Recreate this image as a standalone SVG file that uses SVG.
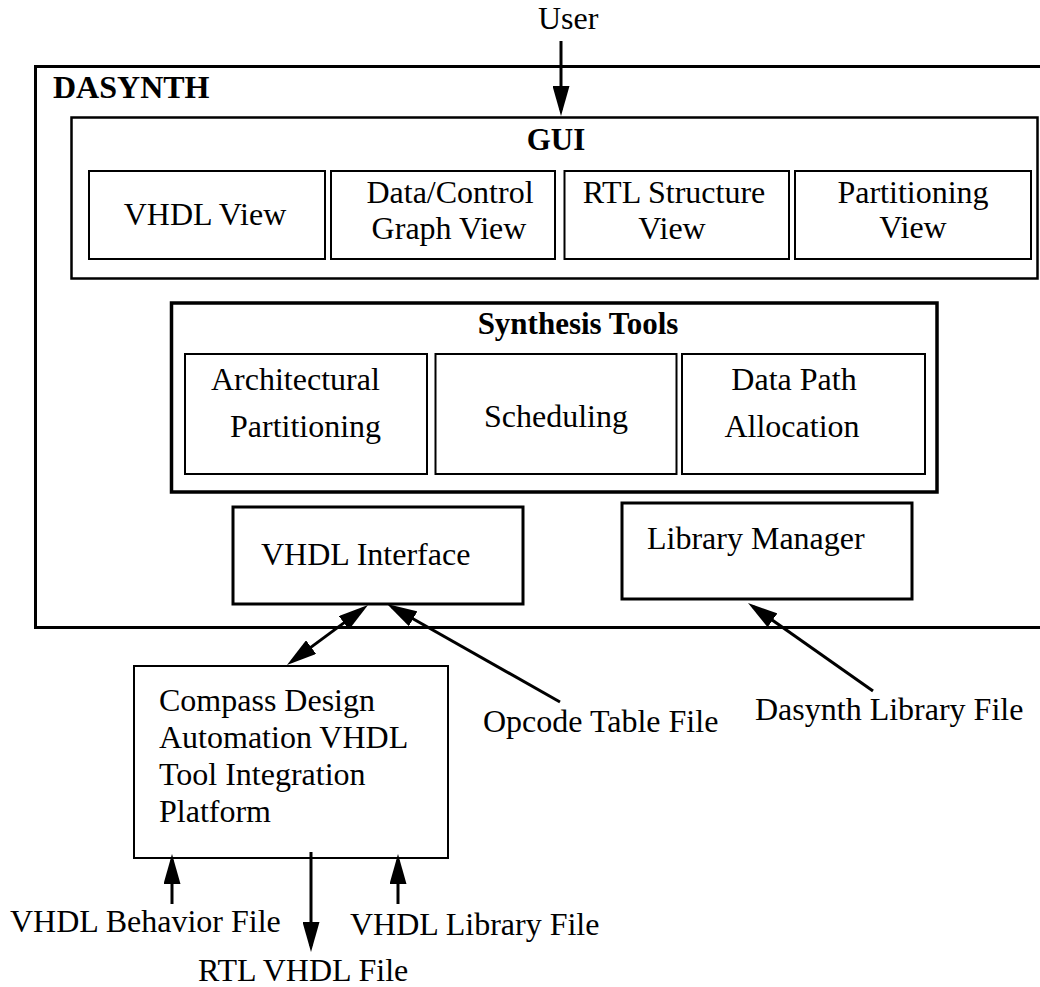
<svg xmlns="http://www.w3.org/2000/svg" width="1040" height="987" viewBox="0 0 1040 987">
  <style>
    text { font-family: "Liberation Serif", "Times New Roman", serif; font-size: 32px; fill: #000; }
    .b { font-weight: bold; font-size: 31px; }
    .c { text-anchor: middle; }
    .box { fill: none; stroke: #000; }
    .thin { stroke-width: 2; }
    .mid { stroke-width: 2.5; }
    .thick { stroke-width: 3; }
    .heavy { stroke-width: 3.5; }
    .wire { stroke: #000; stroke-width: 3; fill: none; }
  </style>
  <defs>
    <marker id="ah" viewBox="0 0 30 17" refX="24" refY="8.5" markerWidth="30" markerHeight="17" markerUnits="userSpaceOnUse" orient="auto-start-reverse">
      <path d="M0,0 L30,8.5 L0,17 z" fill="#000"/>
    </marker>
  </defs>
  <rect width="1040" height="987" style="fill:#fff;stroke:none"/>

  <!-- outer system frame -->
  <g id="dasynth">
    <rect class="box thick" x="35.5" y="66.5" width="1020" height="561"/>
    <text class="b" x="53" y="98" style="font-size:32px">DASYNTH</text>
  </g>

  <!-- GUI group -->
  <g id="gui">
    <rect class="box mid" x="71.5" y="117.5" width="966" height="161"/>
    <text class="b c" x="556" y="150">GUI</text>
  </g>
  <g id="vhdl-view">
    <rect class="box thin" x="89" y="171" width="236" height="88"/>
    <text class="c" x="205" y="225">VHDL View</text>
  </g>
  <g id="graph-view">
    <rect class="box thin" x="331" y="171" width="224" height="88"/>
    <text class="c" x="450" y="203">Data/Control</text>
    <text class="c" x="449" y="239">Graph View</text>
  </g>
  <g id="rtl-view">
    <rect class="box thin" x="564.5" y="171" width="224.5" height="88"/>
    <text class="c" x="674" y="203">RTL Structure</text>
    <text class="c" x="672" y="239">View</text>
  </g>
  <g id="partition-view">
    <rect class="box thin" x="795" y="171" width="236" height="88"/>
    <text class="c" x="913" y="203">Partitioning</text>
    <text class="c" x="913" y="238">View</text>
  </g>

  <!-- synthesis tools group -->
  <g id="synthesis">
    <rect class="box heavy" x="171.5" y="303" width="765.5" height="189"/>
    <text class="b c" x="578" y="334">Synthesis Tools</text>
  </g>
  <g id="arch-partitioning">
    <rect class="box thin" x="185" y="354" width="242" height="120"/>
    <text x="211" y="390">Architectural</text>
    <text x="230" y="437">Partitioning</text>
  </g>
  <g id="scheduling">
    <rect class="box thin" x="435.5" y="354" width="241" height="120"/>
    <text class="c" x="556" y="427">Scheduling</text>
  </g>
  <g id="datapath">
    <rect class="box thin" x="682" y="354" width="243" height="120"/>
    <text class="c" x="794" y="390">Data Path</text>
    <text class="c" x="792" y="437">Allocation</text>
  </g>

  <g id="vhdl-interface">
    <rect class="box thick" x="233" y="507" width="290" height="97"/>
    <text x="261" y="565">VHDL Interface</text>
  </g>
  <g id="library-manager">
    <rect class="box thick" x="622" y="503" width="290" height="96"/>
    <text x="647" y="549">Library Manager</text>
  </g>

  <g id="compass">
    <rect class="box thin" x="134" y="666" width="314" height="192"/>
    <text x="159" y="711">Compass Design</text>
    <text x="159" y="748">Automation VHDL</text>
    <text x="159" y="785">Tool Integration</text>
    <text x="159" y="822">Platform</text>
  </g>

  <!-- external inputs and outputs -->
  <g id="labels">
    <text x="538" y="29">User</text>
    <text x="483" y="732">Opcode Table File</text>
    <text x="755" y="720">Dasynth Library File</text>
    <text x="10" y="932">VHDL Behavior File</text>
    <text x="350" y="935">VHDL Library File</text>
    <text x="198" y="981">RTL VHDL File</text>
  </g>

  <g id="connectors">
    <line class="wire" x1="561" y1="41" x2="561" y2="110" marker-end="url(#ah)"/>
    <line class="wire" x1="291.8" y1="661.4" x2="363.2" y2="608.6" marker-start="url(#ah)" marker-end="url(#ah)"/>
    <line class="wire" x1="560" y1="702" x2="392.2" y2="607" marker-end="url(#ah)"/>
    <line class="wire" x1="873" y1="691" x2="752.9" y2="606.5" marker-end="url(#ah)"/>
    <line class="wire" x1="172" y1="904" x2="172" y2="860" marker-end="url(#ah)"/>
    <line class="wire" x1="311" y1="852" x2="311" y2="946" marker-end="url(#ah)"/>
    <line class="wire" x1="398" y1="904" x2="398" y2="860" marker-end="url(#ah)"/>
  </g>
</svg>
